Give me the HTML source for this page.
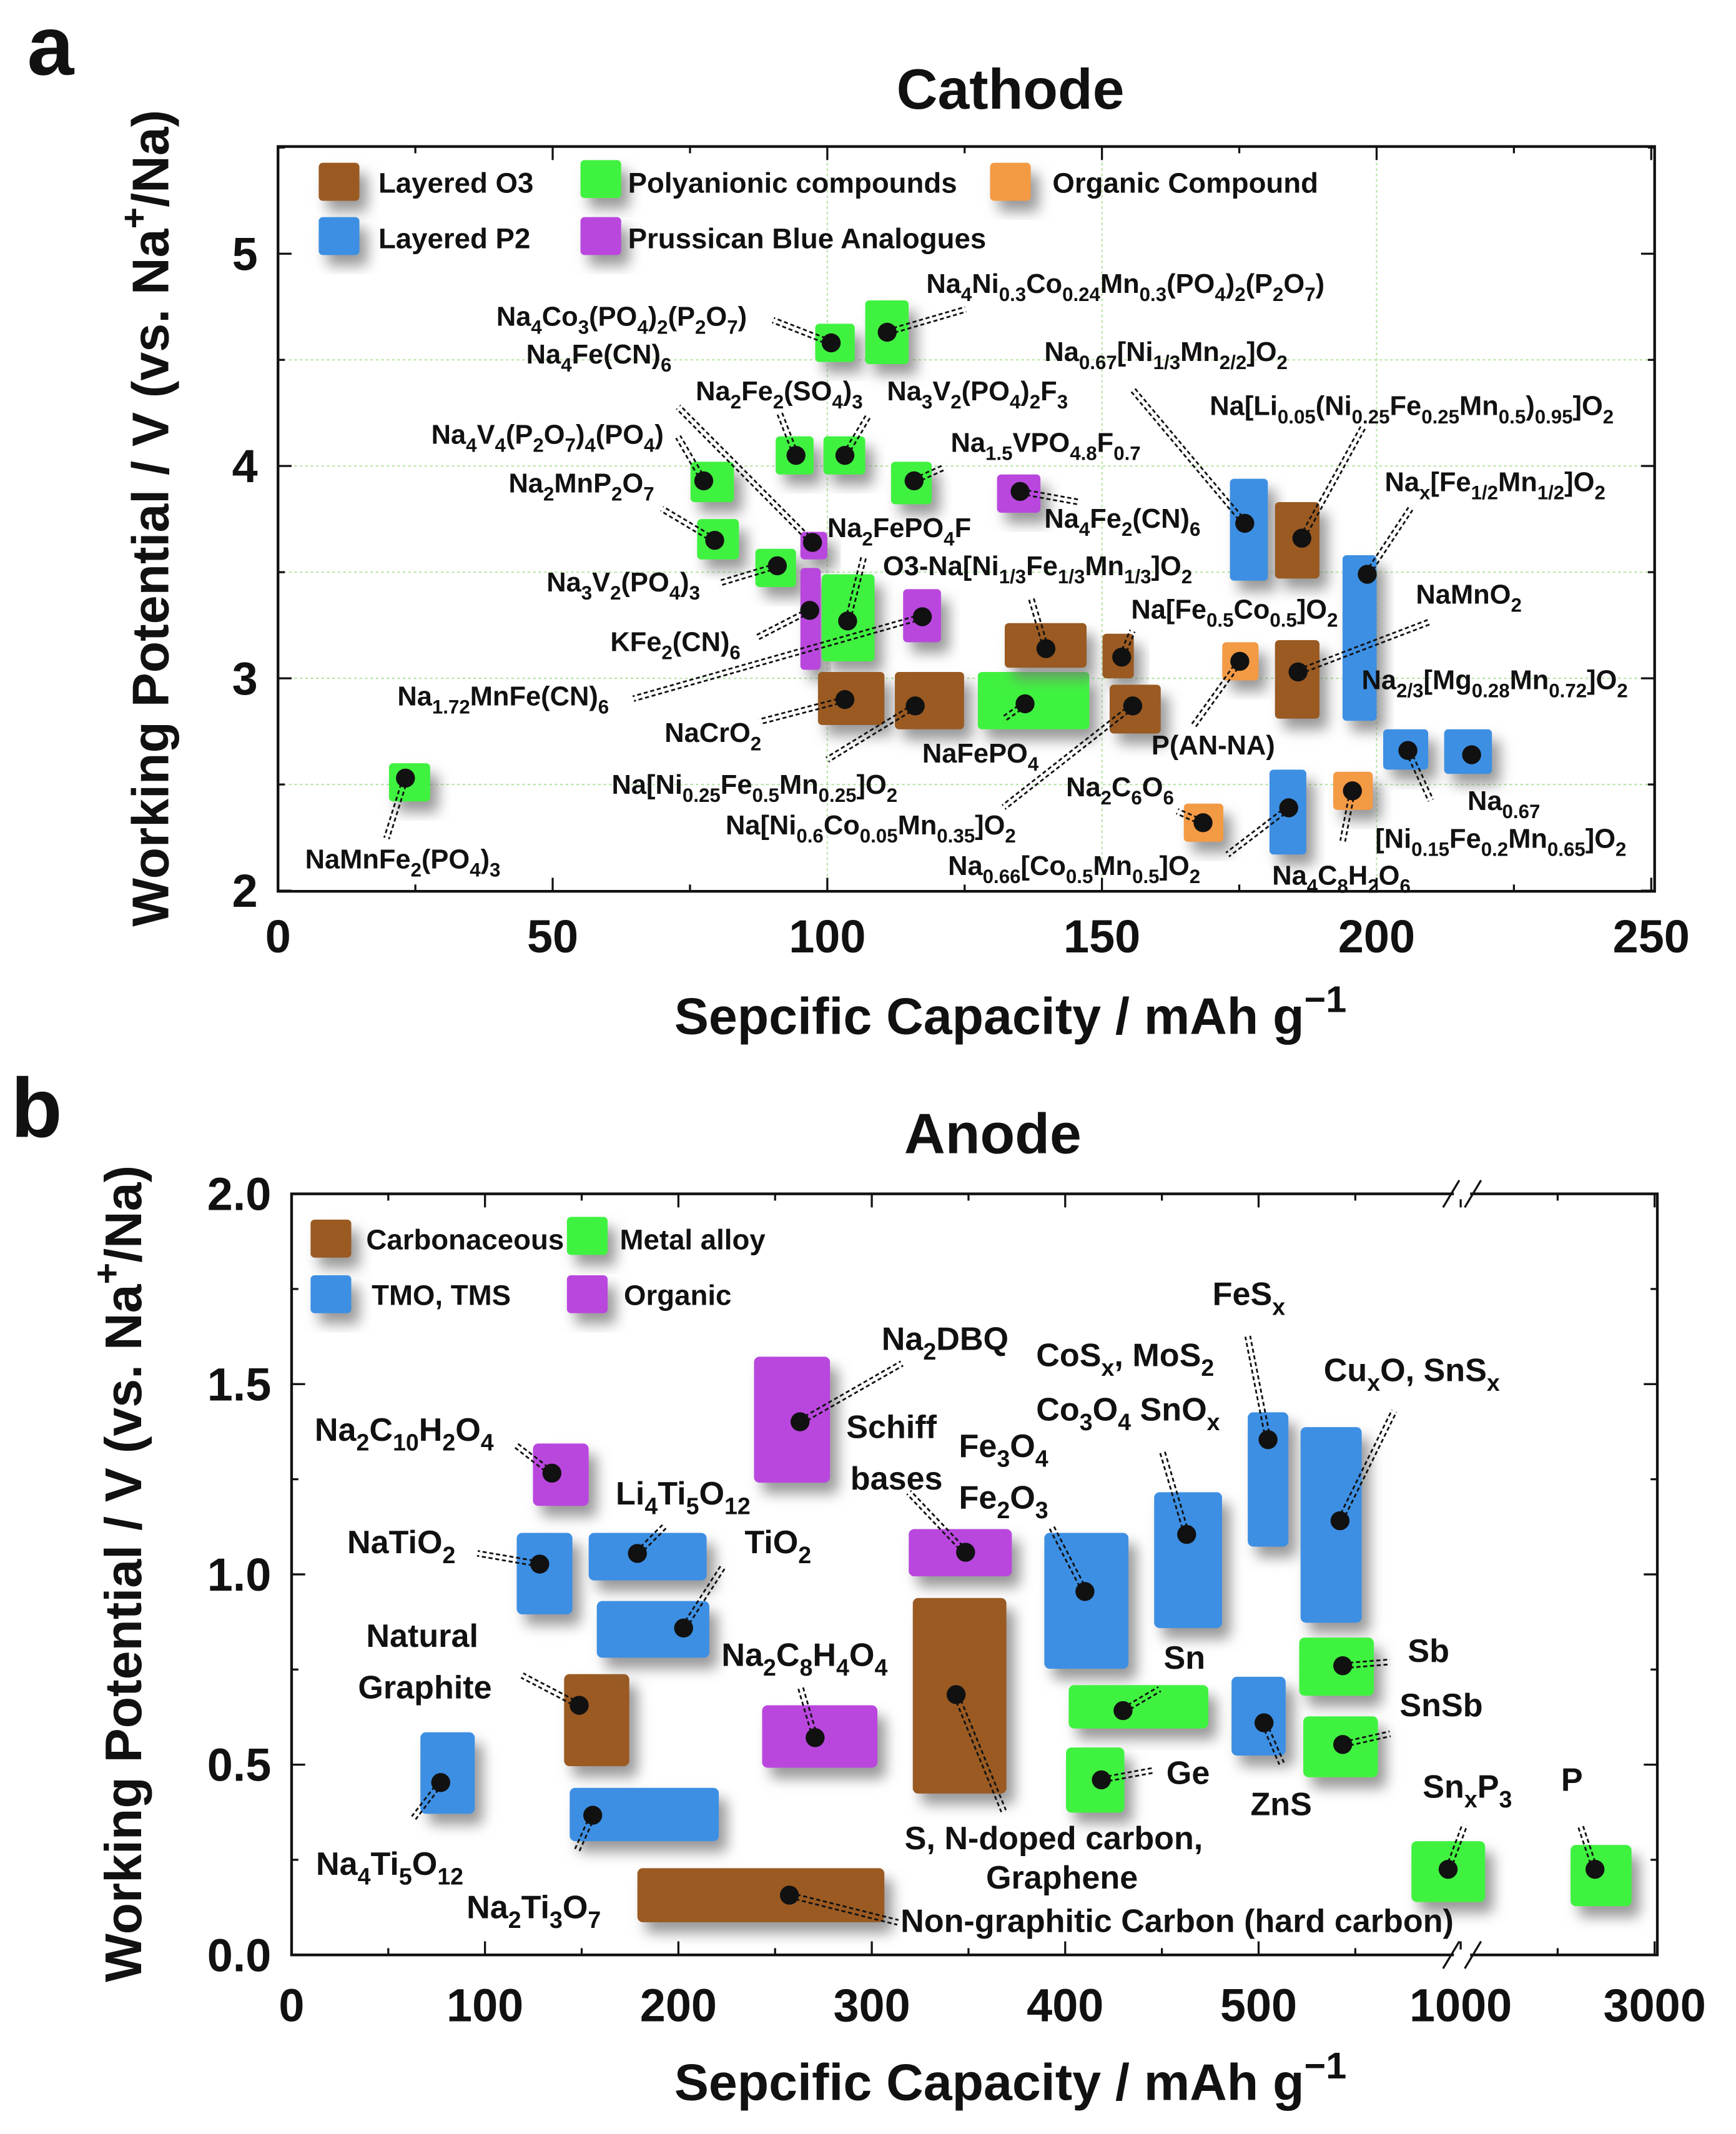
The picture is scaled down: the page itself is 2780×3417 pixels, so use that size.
<!DOCTYPE html>
<html><head><meta charset="utf-8"><style>
html,body{margin:0;padding:0;background:#fff}
svg{display:block}
text{font-family:"Liberation Sans",Arial,sans-serif;font-weight:bold;fill:#111}
</style></head><body>
<svg id="fig" xmlns="http://www.w3.org/2000/svg" width="2780" height="3417" viewBox="0 0 1280 1573" preserveAspectRatio="none">
<defs>
<filter id="sh" x="-50%" y="-50%" width="200%" height="200%"><feDropShadow dx="6" dy="8" stdDeviation="5" flood-color="#777" flood-opacity="0.75"/></filter>
</defs>
<rect width="1280" height="1573" fill="#fff"/>
<g id="ga"></g>
<g id="gb"></g>
</svg>
<script>
// ===== Panel a data (Cathode) =====
const capA  = [23.2,100.7,110.9,77.5,79.5,90.9,94.3,103.2,115.8,135.1,97.3,96.8,103.7,117.3,103.2,116.0,136.0,139.8,153.6,155.6,176.0,186.4,198.3,175.1,185.7,205.7,217.3,168.4,184.0,195.6];
const voltA = [2.53,4.58,4.63,3.93,3.65,3.53,4.05,4.05,3.93,3.88,3.64,3.32,3.27,3.29,2.90,2.87,2.88,3.14,3.10,2.87,3.73,3.66,3.49,3.08,3.03,2.66,2.64,2.32,2.39,2.47];
const capLoA= [20.2,97.8,106.9,75.1,76.3,86.9,90.6,99.3,111.6,130.9,95.1,95.1,99.0,113.8,98.3,112.3,127.4,132.3,150.1,151.4,173.3,181.5,193.8,171.9,181.5,201.2,212.3,164.9,180.5,192.1];
const capHiA= [27.7,105.0,114.8,83.0,83.9,94.3,97.5,106.9,119.0,138.8,100.0,98.8,108.6,120.7,110.4,124.9,147.7,147.2,155.8,160.7,180.2,189.6,200.0,178.5,189.6,209.4,221.0,172.1,187.2,199.3];
const vLoA  = [2.42,4.49,4.48,3.83,3.56,3.43,3.96,3.96,3.82,3.78,3.56,3.04,3.08,3.17,2.78,2.76,2.76,3.05,3.00,2.74,3.46,3.47,2.80,2.99,2.81,2.57,2.55,2.23,2.17,2.38];
const vHiA  = [2.60,4.67,4.78,4.02,3.75,3.61,4.14,4.14,4.02,3.96,3.69,3.52,3.49,3.42,3.03,3.03,3.03,3.26,3.21,2.97,3.94,3.83,3.58,3.17,3.18,2.76,2.76,2.41,2.57,2.56];
const catA  = ['G','G','G','G','G','G','G','G','G','P','P','P','G','P','B','B','G','B','B','B','L','B','L','O','B','L','L','O','L','O'];
const xTicksA = [0,50,100,150,200,250];
const yTicksA = [2,3,4,5];

// ===== Panel b data (Anode) =====
const capB  = [77.1,155.7,148.7,128.3,178.8,202.7,134.6,262.9,270.7,257.4,348.5,343.6,410.2,462.8,504.9,542.1,429.9,418.7,502.8,543.5,543.5,598,2385];
const voltB = [0.453,0.367,0.656,1.027,1.055,0.859,1.266,1.401,0.571,0.157,1.058,0.684,0.955,1.105,1.354,1.141,0.642,0.460,0.610,0.760,0.553,0.225,0.225];
const capLoB= [66.6,143.8,140.9,116.4,153.6,157.8,124.8,239.1,243.3,178.8,319.1,321.2,389.2,446.0,494.4,521.7,401.8,400.4,486.0,521.0,523.1,579,2133];
const capHiB= [94.7,220.9,174.6,145.2,214.6,216.0,153.6,278.4,302.9,306.5,372.4,369.6,432.7,481.1,515.4,553.3,474.0,430.6,514.0,559.6,561.7,1252,2762];
const vLoB  = [0.371,0.299,0.496,0.895,0.984,0.781,1.180,1.241,0.492,0.086,0.995,0.424,0.752,0.859,1.073,0.873,0.595,0.374,0.524,0.681,0.467,0.139,0.128];
const vHiB  = [0.585,0.439,0.738,1.109,1.109,0.930,1.344,1.572,0.656,0.228,1.119,0.938,1.109,1.216,1.426,1.387,0.709,0.545,0.731,0.834,0.627,0.299,0.289];
const catB  = ['L','L','B','L','L','L','P','P','P','B','P','B','L','L','L','L','G','G','L','G','G','G','G'];
const xTicksB = [0,100,200,300,400,500,1000,3000];
const yTicksB = [0,0.5,1.0,1.5,2.0];

const COL={B:'#9a5a22',G:'#3ff23f',L:'#3d8fe3',P:'#b946de',O:'#f39a45'};
const NS='http://www.w3.org/2000/svg';
function mk(tag,attrs,parent){const e=document.createElementNS(NS,tag);for(const k in attrs)e.setAttribute(k,attrs[k]);parent.appendChild(e);return e;}
function rich(parent,str,x,y,size,anchor,name){
  const t=mk('text',{x:x,y:y,'font-size':size,'text-anchor':anchor||'start'},parent);
  
  
  const re=/([_^])\{([^}]*)\}|([^_^]+)/g;let m,off=0;
  while((m=re.exec(str))){
    if(m[3]!==undefined){const s=mk('tspan',{dy:-off},t);s.textContent=m[3];off=0;}
    else{const d=m[1]==='_'?size*0.3:-size*0.42;const s=mk('tspan',{dy:d-off,'font-size':size*0.72},t);s.textContent=m[2];off=d;}
  }
  return t;
}
function leader(parent,x1,y1,x2,y2){
  const dx=x2-x1,dy=y2-y1,L=Math.hypot(dx,dy)||1,nx=-dy/L*1.8,ny=dx/L*1.8;
  [-1,1].forEach(s=>{mk('line',{x1:x1+nx*s,y1:y1+ny*s,x2:x2+nx*s,y2:y2+ny*s,stroke:'#111','stroke-width':1.3,'stroke-dasharray':'3 2'},parent);});
}

// ===== Panel a =====
(function(){
  const g=document.getElementById('ga');
  const X0=205,X1=1220,Y0=108,Y1=657;
  const xs=v=>205+v*4.05, ys=v=>500-(v-3)*156.5;
  let t=mk('text',{x:20,y:55,'font-size':62},g);t.textContent='a';
  
  t=mk('text',{x:745,y:80,'font-size':42,'text-anchor':'middle'},g);t.textContent='Cathode';
  
  // grid
  [2.5,3,3.5,4,4.5].forEach(v=>mk('line',{x1:X0,x2:X1,y1:ys(v),y2:ys(v),stroke:'#b9e6a8','stroke-width':1,'stroke-dasharray':'2 2'},g));
  [100,150,200].forEach(v=>mk('line',{x1:xs(v),x2:xs(v),y1:Y0,y2:Y1,stroke:'#b9e6a8','stroke-width':1,'stroke-dasharray':'2 2'},g));
  const fr=mk('rect',{x:X0,y:Y0,width:X1-X0,height:Y1-Y0,fill:'none',stroke:'#111','stroke-width':2},g);
  
  for(let v=0;v<=250;v+=25){const L=v%50===0?10:5;mk('line',{x1:xs(v),x2:xs(v),y1:Y1,y2:Y1-L,stroke:'#111','stroke-width':1.5},g);mk('line',{x1:xs(v),x2:xs(v),y1:Y0,y2:Y0+L,stroke:'#111','stroke-width':1.5},g);}
  for(let v=2;v<=5.5;v+=0.5){const L=Number.isInteger(v)?10:5;mk('line',{x1:X0,x2:X0+L,y1:ys(v),y2:ys(v),stroke:'#111','stroke-width':1.5},g);mk('line',{x1:X1,x2:X1-L,y1:ys(v),y2:ys(v),stroke:'#111','stroke-width':1.5},g);}
  xTicksA.forEach(v=>{const e=mk('text',{x:xs(v),y:702,'font-size':34,'text-anchor':'middle'},g);e.textContent=v;});
  yTicksA.forEach(v=>{const e=mk('text',{x:190,y:ys(v)+12,'font-size':34,'text-anchor':'end'},g);e.textContent=v;});
  rich(g,'Sepcific Capacity / mAh g^{−1}',745,762,38,'middle','x-axis-title');
  const yl=rich(g,'Working Potential / V (vs. Na^{+}/Na)',0,0,38,'middle','y-axis-title');
  yl.setAttribute('transform','translate(124,382) rotate(-90)');
  // legend
  const leg=[['B',235,120,'Layered O3',279,142],['G',428,118,'Polyanionic compounds',463,142],['O',730,120,'Organic Compound',776,142],['L',235,160,'Layered P2',279,183],['P',428,160,'Prussican Blue Analogues',463,183]];
  leg.forEach(l=>{const r=mk('rect',{x:l[1],y:l[2],width:30,height:28,rx:3,fill:COL[l[0]],filter:'url(#sh)'},g);
    const e=mk('text',{x:l[4],y:l[5],'font-size':21},g);e.textContent=l[3];});
  // boxes
  capA.forEach((c,i)=>{const r=mk('rect',{x:xs(capLoA[i]),y:ys(vHiA[i]),width:xs(capHiA[i])-xs(capLoA[i]),height:ys(vLoA[i])-ys(vHiA[i]),rx:3,fill:COL[catA[i]],filter:'url(#sh)'},g);
    });
  const labs=[
   ['NaMnFe_{2}(PO_{4})_{3}',225,640,285,618,0],
   ['Na_{4}Co_{3}(PO_{4})_{2}(P_{2}O_{7})',366,240,570,236,1],
   ['Na_{4}Ni_{0.3}Co_{0.24}Mn_{0.3}(PO_{4})_{2}(P_{2}O_{7})',683,216,712,228,2],
   ['Na_{4}Fe(CN)_{6}',388,268,500,300,10],
   ['Na_{2}Fe_{2}(SO_{4})_{3}',513,295,575,305,6],
   ['Na_{3}V_{2}(PO_{4})_{2}F_{3}',654,295,640,307,7],
   ['Na_{4}V_{4}(P_{2}O_{7})_{4}(PO_{4})',318,327,500,322,3],
   ['Na_{2}MnP_{2}O_{7}',375,363,488,375,4],
   ['Na_{1.5}VPO_{4.8}F_{0.7}',701,333,695,345,8],
   ['Na_{0.67}[Ni_{1/3}Mn_{2/2}]O_{2}',770,266,835,287,20],
   ['Na[Li_{0.05}(Ni_{0.25}Fe_{0.25}Mn_{0.5})_{0.95}]O_{2}',892,306,1005,315,21],
   ['Na_{x}[Fe_{1/2}Mn_{1/2}]O_{2}',1021,362,1040,375,22],
   ['Na_{4}Fe_{2}(CN)_{6}',770,389,795,370,9],
   ['Na_{2}FePO_{4}F',610,396,637,410,12],
   ['O3-Na[Ni_{1/3}Fe_{1/3}Mn_{1/3}]O_{2}',651,424,760,440,17],
   ['Na_{3}V_{2}(PO_{4})_{3}',403,436,530,430,5],
   ['NaMnO_{2}',1044,445,1055,458,24],
   ['Na[Fe_{0.5}Co_{0.5}]O_{2}',834,456,835,465,18],
   ['KFe_{2}(CN)_{6}',450,480,558,470,11],
   ['Na_{2/3}[Mg_{0.28}Mn_{0.72}]O_{2}',1004,508,null,null,-1],
   ['Na_{1.72}MnFe(CN)_{6}',293,520,467,515,13],
   ['NaCrO_{2}',490,547,560,532,14],
   ['P(AN-NA)',849,556,880,535,23],
   ['NaFePO_{4}',680,562,740,530,16],
   ['Na_{2}C_{6}O_{6}',786,587,868,598,27],
   ['Na[Ni_{0.25}Fe_{0.5}Mn_{0.25}]O_{2}',451,585,610,560,15],
   ['Na_{0.67}',1082,597,1055,590,25],
   ['[Ni_{0.15}Fe_{0.2}Mn_{0.65}]O_{2}',1014,625,null,null,-1],
   ['Na[Ni_{0.6}Co_{0.05}Mn_{0.35}]O_{2}',535,615,740,595,19],
   ['Na_{0.66}[Co_{0.5}Mn_{0.5}]O_{2}',699,645,905,630,28],
   ['Na_{4}C_{8}H_{2}O_{6}',938,652,990,620,29]];
  labs.forEach(l=>{if(l[5]>=0)leader(g,xs(capA[l[5]]),ys(voltA[l[5]]),l[3],l[4]);});
  capA.forEach((c,i)=>{const d=mk('circle',{cx:xs(c),cy:ys(voltA[i]),r:7,fill:'#111'},g);});
  labs.forEach(l=>rich(g,l[0],l[1],l[2],20,'start','material-label'));
})();

// ===== Panel b =====
(function(){
  const g=document.getElementById('gb');
  const X0=215,X1=1222,Y0=880,Y1=1441;
  const xs=v=>v<=600?215+v*1.426:(v<1000?1070.6+(v-600)/400*6.4:1077+(v-1000)*0.0715);
  const ys=v=>1441-v*280.5;
  let t=mk('text',{x:8,y:838,'font-size':62},g);t.textContent='b';
  
  t=mk('text',{x:732,y:850,'font-size':42,'text-anchor':'middle'},g);t.textContent='Anode';
  
  const fr=mk('rect',{x:X0,y:Y0,width:X1-X0,height:Y1-Y0,fill:'none',stroke:'#111','stroke-width':2},g);
  
  for(let v=0;v<=550;v+=50){const L=v%100===0?10:5;mk('line',{x1:xs(v),x2:xs(v),y1:Y1,y2:Y1-L,stroke:'#111','stroke-width':1.5},g);mk('line',{x1:xs(v),x2:xs(v),y1:Y0,y2:Y0+L,stroke:'#111','stroke-width':1.5},g);}
  [1000,2000,3000].forEach(v=>{mk('line',{x1:xs(v),x2:xs(v),y1:Y1,y2:Y1-(v===2000?5:10),stroke:'#111','stroke-width':1.5},g);mk('line',{x1:xs(v),x2:xs(v),y1:Y0,y2:Y0+(v===2000?5:10),stroke:'#111','stroke-width':1.5},g);});
  for(let v=0;v<=2.0001;v+=0.25){const L=Math.abs(v*2-Math.round(v*2))<1e-6?10:5;mk('line',{x1:X0,x2:X0+L,y1:ys(v),y2:ys(v),stroke:'#111','stroke-width':1.5},g);mk('line',{x1:X1,x2:X1-L,y1:ys(v),y2:ys(v),stroke:'#111','stroke-width':1.5},g);}
  // axis breaks
  [Y0,Y1].forEach(y=>{mk('rect',{x:1072,y:y-4,width:12,height:8,fill:'#fff'},g);
    mk('line',{x1:1064,y1:y+10,x2:1076,y2:y-10,stroke:'#111','stroke-width':1.5},g);mk('line',{x1:1080,y1:y+10,x2:1092,y2:y-10,stroke:'#111','stroke-width':1.5},g);});
  xTicksB.forEach(v=>{const e=mk('text',{x:xs(v),y:1490,'font-size':34,'text-anchor':'middle'},g);e.textContent=v;});
  yTicksB.forEach(v=>{const e=mk('text',{x:200,y:ys(v)+12,'font-size':34,'text-anchor':'end'},g);e.textContent=v.toFixed(1);});
  rich(g,'Sepcific Capacity / mAh g^{−1}',745,1548,38,'middle','x-axis-title');
  const yl=rich(g,'Working Potential / V (vs. Na^{+}/Na)',0,0,38,'middle','y-axis-title');
  yl.setAttribute('transform','translate(104,1160) rotate(-90)');
  const leg=[['B',229,899,'Carbonaceous',270,921],['G',418,897,'Metal alloy',457,921],['L',229,940,'TMO, TMS',274,962],['P',418,940,'Organic',460,962]];
  leg.forEach(l=>{const r=mk('rect',{x:l[1],y:l[2],width:30,height:28,rx:3,fill:COL[l[0]],filter:'url(#sh)'},g);
    const e=mk('text',{x:l[4],y:l[5],'font-size':21},g);e.textContent=l[3];});
  capB.forEach((c,i)=>{const r=mk('rect',{x:xs(capLoB[i]),y:ys(vHiB[i]),width:xs(capHiB[i])-xs(capLoB[i]),height:ys(vLoB[i])-ys(vHiB[i]),rx:4,fill:COL[catB[i]],filter:'url(#sh)'},g);
    });
  const labs=[
   ['Na_{2}C_{10}H_{2}O_{4}',232,1062,380,1065,6],
   ['Na_{2}DBQ',650,995,665,1005,7],
   ['CoS_{x}, MoS_{2}',764,1007,null,null,-1],
   ['Co_{3}O_{4} SnO_{x}',764,1047,857,1070,13],
   ['Schiff',624,1060,null,null,-1],
   ['bases',627,1098,670,1100,10],
   ['FeS_{x}',894,962,920,985,14],
   ['Cu_{x}O, SnS_{x}',976,1018,1028,1040,15],
   ['Fe_{3}O_{4}',707,1074,null,null,-1],
   ['Fe_{2}O_{3}',707,1112,775,1125,12],
   ['Li_{4}Ti_{5}O_{12}',454,1109,490,1125,4],
   ['NaTiO_{2}',256,1145,352,1145,3],
   ['TiO_{2}',549,1145,533,1155,5],
   ['Natural',270,1214,null,null,-1],
   ['Graphite',264,1252,385,1235,2],
   ['Na_{2}C_{8}H_{4}O_{4}',532,1228,590,1243,8],
   ['Sn',858,1230,855,1245,16],
   ['Sb',1038,1225,1025,1225,19],
   ['SnSb',1032,1265,1025,1278,20],
   ['Ge',860,1315,850,1305,17],
   ['ZnS',922,1338,945,1300,18],
   ['S, N-doped carbon,',667,1363,740,1335,11],
   ['Graphene',727,1392,null,null,-1],
   ['Na_{4}Ti_{5}O_{12}',233,1382,305,1340,0],
   ['Na_{2}Ti_{3}O_{7}',344,1414,425,1365,1],
   ['Non-graphitic Carbon (hard carbon)',664,1424,662,1417,9],
   ['Sn_{x}P_{3}',1049,1325,1080,1345,21],
   ['P',1151,1320,1165,1345,22]];
  labs.forEach(l=>{if(l[5]>=0)leader(g,xs(capB[l[5]]),ys(voltB[l[5]]),l[3],l[4]);});
  capB.forEach((c,i)=>{const d=mk('circle',{cx:xs(c),cy:ys(voltB[i]),r:7,fill:'#111'},g);});
  labs.forEach(l=>{const big=/Natural|Graphite|Schiff|bases|S, N|Graphene|Non-graphitic/.test(l[0]);rich(g,l[0],l[1],l[2],big?24:24,'start','material-label');});
})();
</script>
</body></html>
